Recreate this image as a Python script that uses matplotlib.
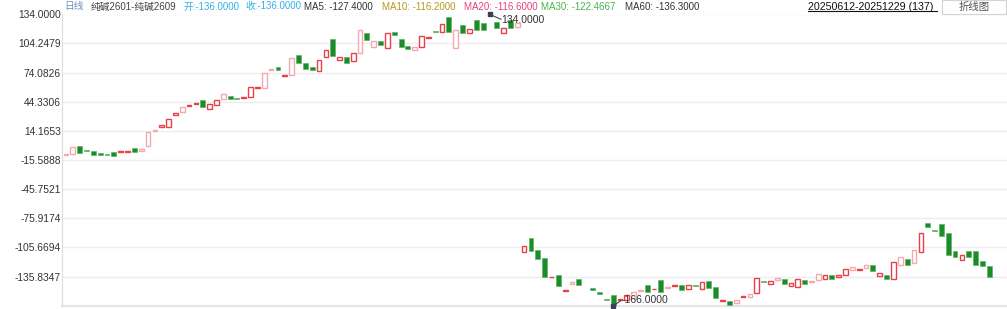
"""
Spread candlestick chart: 纯碱2601-纯碱2609, daily.
Output: out.png (1007 x 309 px)
"""

import numpy as np
import matplotlib
matplotlib.use("Agg")
import matplotlib.pyplot as plt
from matplotlib.lines import Line2D
from matplotlib.patches import Rectangle

# ── data ─────────────────────────────────────────────────────────────────────
opens = [
    -10.6, -9.6, -1.3, -5.7, -6.2, -8.5, -9.6, -7.8, -7.5, -7.8,
    -3.7, -6.2, -1.3, 14.1, 17.9, 17.9, 30.3, 34.0, 39.8, 41.9,
    46.3, 36.4, 40.6, 47.4, 50.1, 48.1, 48.4, 48.8, 58.0, 58.7,
    76.9, 79.9, 70.4, 71.7, 92.3, 84.4, 79.7, 75.9, 90.6, 108.5,
    87.2, 89.9, 86.4, 94.1, 115.3, 100.9, 106.7, 99.8, 116.0, 108.5,
    101.6, 97.5, 100.3, 109.5, 117.3, 116.3, 131.1, 99.2, 123.2, 115.3,
    128.3, 125.6, 133.0, 126.3, 115.3, 128.3, 121.4,
    -110.7, -96.0, -108.4, -116.6, -136.5, -134.1, -150.9, -143.0, -138.2,
    np.nan, -147.5, -151.6, -158.8, -154.4, -160.1, -159.8, -157.4, -150.2, -144.4,
    -149.0, -139.2, -147.2, -145.1, -144.7, -148.5, -144.4, -148.8, -140.2, -146.4,
    -160.8, -160.8, -162.9, -157.0, -157.0, -152.9, -140.2, -143.0, -139.5, -137.8,
    -145.1, -146.1, -139.2, -141.0, -138.9, -137.9, -134.1, -135.8, -134.1, -129.0,
    -129.2, -127.2, -123.8, -134.8, -134.1, -137.9, -123.5, -117.9, -122.0, -110.1,
    -80.3, -87.8, -81.6, -90.9, -109.1, -118.6, -109.4, -109.4, -120.0, -124.8,
]
closes = [
    -9.1, -2.4, -8.2, -6.5, -10.3, -10.3, -10.3, -11.3, -6.5, -6.8,
    -7.8, -4.1, 13.1, 15.1, 19.9, 26.8, 32.3, 39.1, 40.9, 43.2,
    38.5, 41.6, 45.7, 52.2, 46.7, 46.7, 49.1, 59.1, 59.1, 73.5,
    77.9, 76.6, 71.4, 88.9, 83.7, 77.9, 76.9, 87.2, 97.5, 91.3,
    90.6, 83.8, 94.7, 118.0, 107.8, 106.7, 102.6, 114.7, 113.2, 100.9,
    98.8, 100.3, 111.9, 111.1, 116.3, 124.2, 116.3, 118.0, 115.3, 118.8,
    118.0, 118.0, 134.0, 119.8, 119.8, 119.8, 125.6,
    -103.9, -109.1, -117.9, -135.8, -136.1, -145.1, -149.8, -141.3, -144.4,
    np.nan, -149.2, -153.9, -159.5, -166.0, -158.8, -154.7, -151.3, -149.5, -151.3,
    -148.0, -151.3, -146.5, -144.4, -149.8, -144.4, -145.1, -141.6, -147.1, -158.1,
    -160.1, -164.9, -160.1, -156.4, -153.9, -137.5, -141.3, -140.2, -137.5, -143.2,
    -142.6, -138.2, -143.4, -140.2, -133.1, -134.4, -138.2, -134.1, -128.2, -126.2,
    -128.2, -124.1, -129.7, -132.0, -137.9, -120.7, -115.6, -123.5, -108.7, -90.9,
    -84.4, -88.5, -93.6, -113.5, -115.9, -113.5, -115.2, -123.8, -124.8, -136.0,
]
# up candles drawn in the lighter shade
light_up = {0, 1, 11, 12, 13, 17, 23, 29, 30, 33, 43, 45, 51, 57, 66,
            74, 83, 84, 88, 98, 100, 104, 109, 110, 115, 117, 122, 124}

tick_vals = [134.0, 104.2479, 74.0826, 44.3306, 14.1653,
             -15.5888, -45.7521, -75.9174, -105.6694, -135.8347]
tick_labels = ["134.0000", "104.2479", "74.0826", "44.3306", "14.1653",
               "-15.5888", "-45.7521", "-75.9174", "-105.6694", "-135.8347"]

max_idx, max_val = 62, 134.0
min_idx, min_val = 80, -166.0

# ── style ────────────────────────────────────────────────────────────────────
RED    = "#e8404a"
PINK   = "#f4a9ae"
GREEN  = "#1b8c2a"
GRID   = "#ececf2"
TXT    = "#333333"
FONT   = ["Liberation Sans", "Noto Sans CJK SC", "DejaVu Sans"]
W, H   = 1007, 309

plt.rcParams["font.family"] = FONT

fig = plt.figure(figsize=(W / 100, H / 100), dpi=100)
fig.patch.set_facecolor("white")
ax = fig.add_axes([62 / W, 3 / H, 945 / W, 291.5 / H])

o = np.array(opens, dtype=float)
c = np.array(closes, dtype=float)
x = np.arange(len(o))
ok = ~np.isnan(o)
lo = np.minimum(o, c)
hgt = np.maximum(np.abs(c - o), 0.8)
up = ok & (c >= o)
dn = ok & (c < o)

ax.bar(x[dn], hgt[dn], bottom=lo[dn], width=0.72, color=GREEN,
       edgecolor="#5fb368", linewidth=0.5, zorder=3)
up_edges = [PINK if i in light_up else RED for i in x[up]]
ax.bar(x[up], hgt[up], bottom=lo[up], width=0.68, facecolor="white",
       edgecolor=up_edges, linewidth=1.0, zorder=3)

ax.set_xlim(-0.58, 137.6)
ax.set_ylim(-166, 134)
ax.set_yticks(tick_vals)
ax.set_yticklabels(tick_labels)
ax.set_xticks([])
ax.tick_params(axis="y", length=0, pad=0.8, labelsize=7.4, labelcolor=TXT)
ax.grid(axis="y", color=GRID, lw=1.0, zorder=0)
for s in ["top", "right", "bottom"]:
    ax.spines[s].set_visible(False)
ax.spines["left"].set_color("#dcdce6")
ax.axhline(-166, color="#e4e4ea", lw=1.6, zorder=1, clip_on=False)

# max / min markers
for xi, yv, tx, ty, lbl in [(max_idx, max_val, 63.7, 128.3, "134.0000"),
                            (min_idx, min_val, 81.2, -159.8, "-166.0000")]:
    ax.plot([xi], [yv], marker="s", ms=3, color="#3a3f55", zorder=5, clip_on=False)
    ax.plot([xi, tx - 0.1], [yv, ty + (0.8 if yv > 0 else -0.8)],
            color="#3a3f55", lw=0.8, zorder=5, clip_on=False)
    ax.text(tx, ty, lbl, fontsize=7.5, color=TXT, va="center", ha="left", zorder=6)

# ── header ───────────────────────────────────────────────────────────────────
header = [
    (64,    "日线", "#6d8cc0"),
    (90.7,  "纯碱2601-纯碱2609", "#444444"),
    (184,   "开:-136.0000", "#36b0e6"),
    (245,   "收:-136.0000", "#36b0e6"),
    (304.3, "MA5: -127.4000", TXT),
    (381.7, "MA10: -116.2000", "#b8961e"),
    (464.3, "MA20: -116.6000", "#e8407c"),
    (541,   "MA30: -122.4667", "#4cb34c"),
    (625,   "MA60: -136.3000", TXT),
]
for px, s, col in header:
    fig.text(px / W, 1 - 6.5 / H, s, fontsize=7.0, color=col,
             ha="left", va="center")

fig.text(808.3 / W, 1 - 6.5 / H, "20250612-20251229 (137)", fontsize=7.7,
         color="#111111", ha="left", va="center")
fig.add_artist(Line2D([808.3 / W, 936.7 / W], [1 - 11 / H, 1 - 11 / H],
                      color="#111111", lw=0.8))

fig.add_artist(Rectangle((941.7 / W, 1 - 13.5 / H), 64.5 / W, 13.2 / H,
                         facecolor="white", edgecolor="#d4d4d8", lw=0.8,
                         transform=fig.transFigure))
fig.text(974 / W, 1 - 7 / H, "折线图", fontsize=7.5, color="#555555",
         ha="center", va="center")

fig.savefig("out.png", dpi=100, facecolor="white")
plt.close()
